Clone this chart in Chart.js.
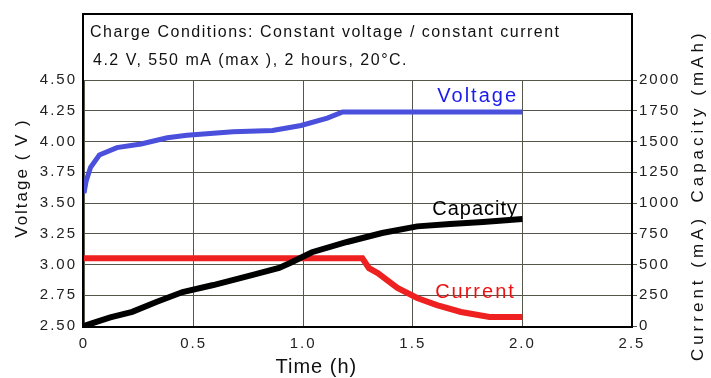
<!DOCTYPE html>
<html>
<head>
<meta charset="utf-8">
<title>Charge characteristics</title>
<script src="https://cdn.jsdelivr.net/npm/chart.js@4/dist/chart.umd.min.js"></script>
<style>
  body { margin: 0; background: #fff; }
  canvas { display: block; }
</style>
</head>
<body>
<canvas id="chargeChart" width="711" height="378"></canvas>
<script>
// Charge curve: voltage (left axis), capacity + current (right axis)

const titleLines = [
  "Charge Conditions: Constant voltage / constant current",
  "4.2 V, 550 mA (max ), 2 hours, 20\u00B0C."
];

// time in hours
const voltageTime = [0, 0.01, 0.03, 0.07, 0.15, 0.26, 0.38, 0.47, 0.68, 0.86, 0.99, 1.11, 1.18, 2.0];
const voltageValues = [3.58, 3.68, 3.79, 3.89, 3.95, 3.98, 4.03, 4.05, 4.08, 4.09, 4.13, 4.19, 4.24, 4.24];

const capacityTime = [0, 0.06, 0.12, 0.22, 0.33, 0.45, 0.59, 0.77, 0.89, 0.94, 1.04, 1.2, 1.36, 1.52, 1.67, 1.82, 2.0];
const capacityValues = [0, 35, 70, 115, 195, 276, 333, 415, 472, 512, 600, 683, 756, 810, 830, 846, 870];

const currentTime = [0, 1.27, 1.30, 1.34, 1.43, 1.52, 1.61, 1.72, 1.85, 2.0];
const currentValues = [550, 550, 470, 430, 310, 228, 170, 114, 73, 73];

const xTicks = [0, 0.5, 1.0, 1.5, 2.0, 2.5];
const voltageTicks = [2.5, 2.75, 3.0, 3.25, 3.5, 3.75, 4.0, 4.25, 4.5];
const rightTicks = [0, 250, 500, 750, 1000, 1250, 1500, 1750, 2000];

const FONT = "Arial, 'Liberation Sans', sans-serif";

function toPoints(xs, ys){
  return xs.map((x, i) => ({ x: x, y: ys[i] }));
}

// draw the frame, the condition text and the labels
const decorations = {
  id: "decorations",
  beforeDraw(chart){
    chart.ctx.letterSpacing = "2px";
  },
  afterDraw(chart){
    const ctx = chart.ctx;
    const area = chart.chartArea;
    const x = chart.scales.x;
    const yv = chart.scales.y;
    const yr = chart.scales.y2;

    ctx.save();
    ctx.strokeStyle = "#000";
    ctx.lineWidth = 2;
    ctx.strokeRect(area.left - 1, 14, area.right - area.left + 1, area.bottom - 14 + 1);

    ctx.fillStyle = "#111";
    ctx.font = "16px " + FONT;
    ctx.letterSpacing = "1.5px";
    ctx.textAlign = "left";
    ctx.textBaseline = "alphabetic";
    ctx.fillText(titleLines[0], area.left + 6, 37);
    ctx.fillText(titleLines[1], area.left + 9, 65);

    // series labels
    ctx.font = "20px " + FONT;
    ctx.letterSpacing = "2px";
    ctx.textAlign = "right";
    ctx.fillStyle = "#1a1aee";
    ctx.fillText("Voltage", x.getPixelForValue(1.98), yv.getPixelForValue(4.32));
    ctx.fillStyle = "#000";
    ctx.letterSpacing = "1px";
    ctx.fillText("Capacity", x.getPixelForValue(1.98), yr.getPixelForValue(900));
    ctx.fillStyle = "#ee1111";
    ctx.letterSpacing = "2px";
    ctx.fillText("Current", x.getPixelForValue(1.97), yr.getPixelForValue(228));

    // axis titles
    ctx.fillStyle = "#111";
    ctx.textAlign = "center";
    ctx.letterSpacing = "1px";
    ctx.fillText("Time (h)", x.getPixelForValue(1.06), 373);

    ctx.font = "17px " + FONT;
    ctx.textBaseline = "middle";
    ctx.letterSpacing = "2px";
    ctx.save();
    ctx.translate(22, 178);
    ctx.rotate(-Math.PI / 2);
    ctx.fillText("Voltage ( V )", 0, 0);
    ctx.restore();

    ctx.letterSpacing = "4px";
    ctx.save();
    ctx.translate(698, 116);
    ctx.rotate(-Math.PI / 2);
    ctx.fillText("Capacity (mAh)", 0, 0);
    ctx.restore();

    ctx.save();
    ctx.translate(698, 288);
    ctx.rotate(-Math.PI / 2);
    ctx.fillText("Current (mA)", 0, 0);
    ctx.restore();

    ctx.restore();
  }
};

const gridColor = "#55554a";

new Chart(document.getElementById("chargeChart"), {
  type: "line",
  data: {
    datasets: [
      {
        label: "Voltage",
        data: toPoints(voltageTime, voltageValues),
        borderColor: "#4a50dc",
        borderWidth: 5,
        yAxisID: "y"
      },
      {
        label: "Capacity",
        data: toPoints(capacityTime, capacityValues),
        borderColor: "#000",
        borderWidth: 6,
        yAxisID: "y2"
      },
      {
        label: "Current",
        data: toPoints(currentTime, currentValues),
        borderColor: "#ee2020",
        borderWidth: 6,
        yAxisID: "y2"
      }
    ]
  },
  options: {
    responsive: false,
    animation: false,
    devicePixelRatio: 1,
    layout: { padding: { top: 80, left: 0, right: 0, bottom: 0 } },
    elements: { point: { radius: 0 }, line: { tension: 0, borderCapStyle: "butt" } },
    plugins: { legend: { display: false }, tooltip: { enabled: false } },
    scales: {
      x: {
        type: "linear",
        min: 0, max: 2.5,
        afterBuildTicks: s => { s.ticks = xTicks.map(v => ({ value: v })); },
        afterFit: s => { s.height = 52; },
        ticks: {
          color: "#222",
          font: { family: FONT, size: 15 },
          padding: 9,
          callback: v => v === 0 ? "0" : v.toFixed(1)
        },
        grid: { color: gridColor, lineWidth: 1, drawTicks: false },
        border: { display: false }
      },
      y: {
        position: "left",
        min: 2.5, max: 4.5,
        afterBuildTicks: s => { s.ticks = voltageTicks.map(v => ({ value: v })); },
        afterFit: s => { s.width = 84; },
        ticks: {
          color: "#222",
          font: { family: FONT, size: 15 },
          padding: 7,
          callback: v => v.toFixed(2)
        },
        grid: { color: gridColor, lineWidth: 1, drawTicks: false },
        border: { display: false }
      },
      y2: {
        position: "right",
        min: 0, max: 2000,
        afterBuildTicks: s => { s.ticks = rightTicks.map(v => ({ value: v })); },
        afterFit: s => { s.width = 79; },
        ticks: {
          color: "#222",
          font: { family: FONT, size: 15 },
          padding: 2,
          callback: v => String(v)
        },
        grid: { color: gridColor, lineWidth: 1, drawOnChartArea: false, tickLength: 5 },
        border: { display: false }
      }
    }
  },
  plugins: [decorations]
});
</script>
</body>
</html>
